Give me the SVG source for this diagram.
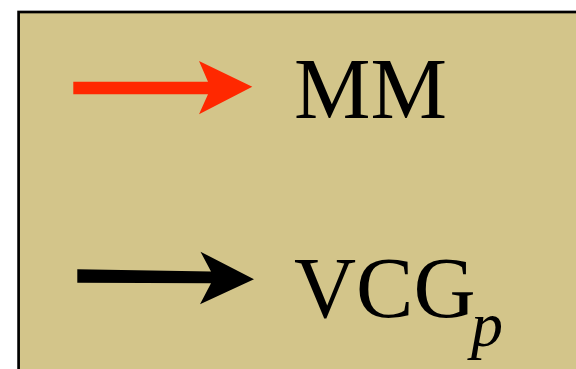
<svg xmlns="http://www.w3.org/2000/svg" width="576" height="369" viewBox="0 0 576 369">
<style>
.lbl{font-family:"Liberation Serif","Times New Roman",serif;font-size:86px;fill:#000}
.sub{font-family:"Liberation Serif","Times New Roman",serif;font-style:italic;font-size:64px;fill:#000}
</style>
<rect width="576" height="369" fill="#ffffff"/>
<g id="legend-box">
<rect x="18.6" y="12" width="570" height="370" fill="#d3c58a" stroke="#000" stroke-width="2.7"/>
</g>
<g id="connectors">
<polygon id="arrow-mm" points="73.3,81.7 208,81.7 199,61 252.3,86.7 199,114.3 208,94.3 73.3,94.3" fill="#ff2800"/>
<polygon id="arrow-vcg" points="77.3,269.3 211,271.5 200.5,251.7 254,279.3 200,304.3 211,283.3 77.3,282.7" fill="#000"/>
</g>
<g id="label-mm">
<text class="lbl" x="294" y="118.3">MM</text>
</g>
<g id="label-vcg">
<text class="lbl" x="294" y="317.3">VCG<tspan class="sub" x="471" y="345.5">p</tspan></text>
</g>
</svg>
